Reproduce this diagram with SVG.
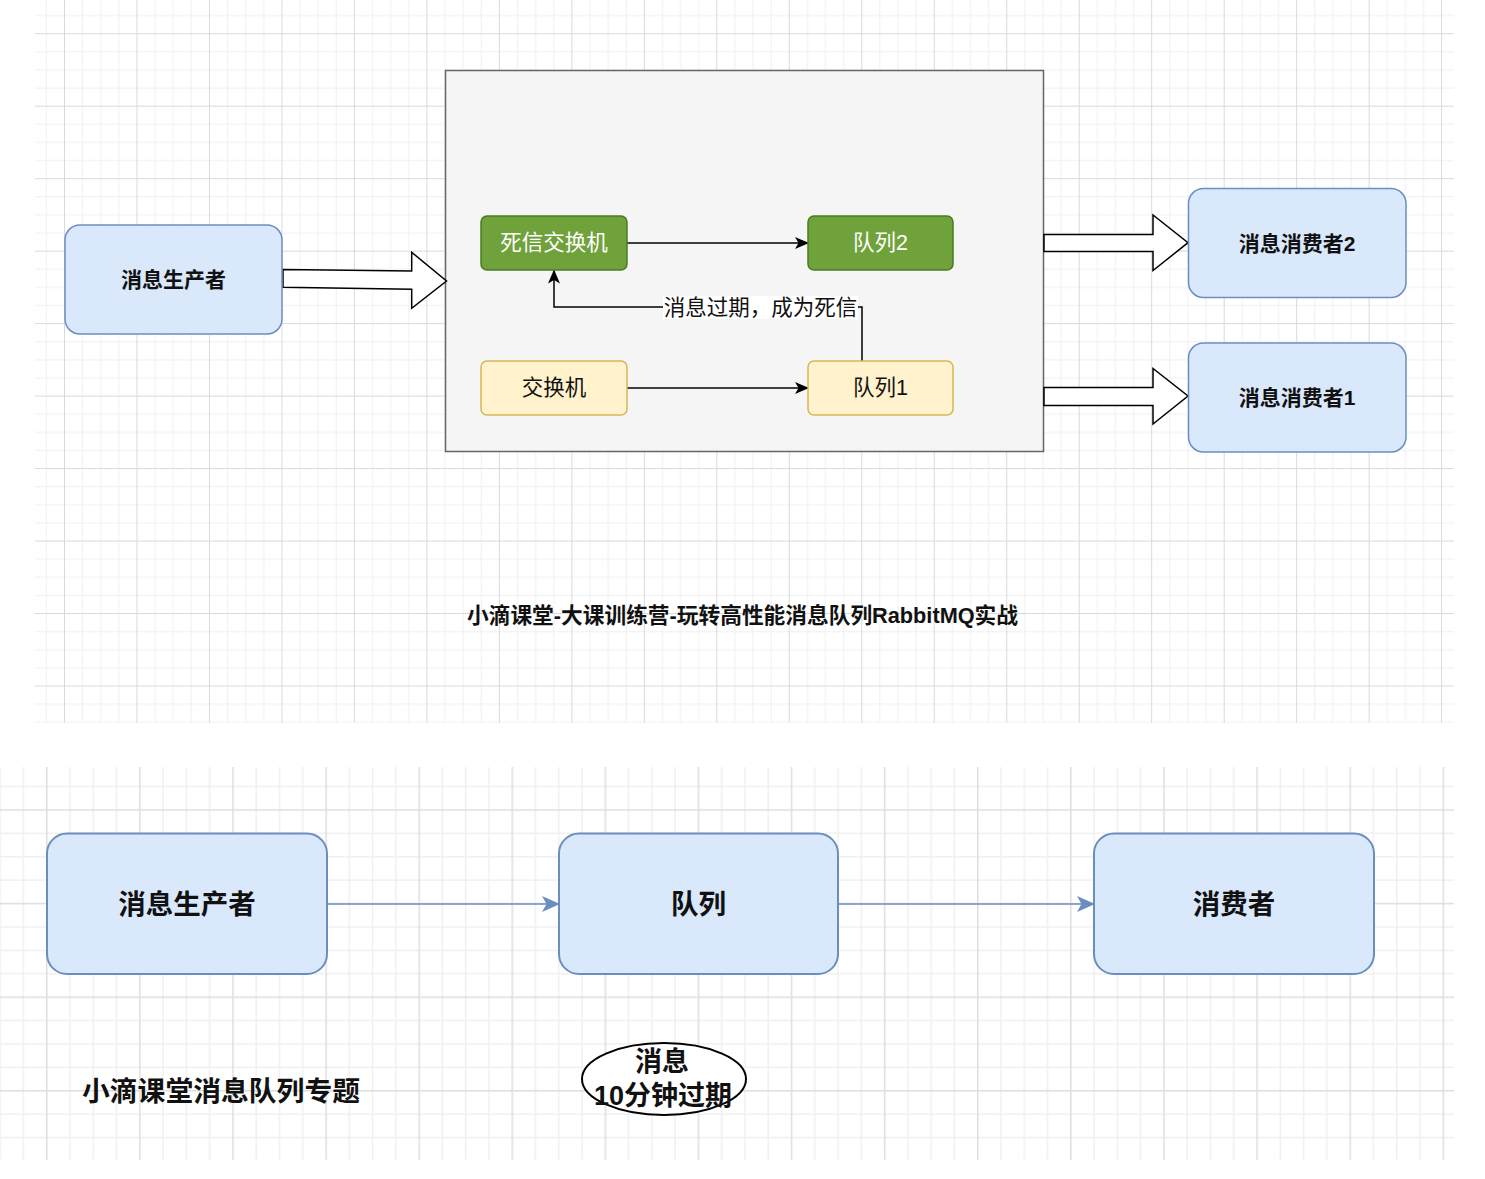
<svg xmlns="http://www.w3.org/2000/svg" width="1485" height="1179" viewBox="0 0 1485 1179">
<defs>
<style>
.t{font-family:"Liberation Sans","Noto Sans CJK SC",sans-serif;text-anchor:middle;dominant-baseline:central}
.b{font-weight:bold;fill:#111}
.blue{fill:#dae8fc;stroke:#6c8ebf}
.green{fill:#70a23b;stroke:#4a7b24;stroke-width:1.5}
.yellow{fill:#fff2cc;stroke:#d6b656;stroke-width:1.5}
.blk{fill:#fff;stroke:#000;stroke-width:1.5;stroke-linejoin:miter}
.edge{fill:none;stroke:#000;stroke-width:1.5}
.bedge{fill:none;stroke:#6c8ebf;stroke-width:1.5}
</style>
<pattern id="gt" patternUnits="userSpaceOnUse" x="64" y="33.2" width="72.48" height="72.48">
<path d="M18.62 0V72.48M36.74 0V72.48M54.86 0V72.48M0 18.62H72.48M0 36.74H72.48M0 54.86H72.48" stroke="#f0f0f0" stroke-width="1"/>
<path d="M0.5 0V72.48M0 0.5H72.48" stroke="#d9d9d9" stroke-width="1"/>
</pattern>
<pattern id="gb" patternUnits="userSpaceOnUse" x="46" y="809.2" width="93.1" height="93.6">
<path d="M23.98 0V93.6M47.25 0V93.6M70.53 0V93.6M0 24.1H93.1M0 47.5H93.1M0 70.9H93.1" stroke="#f0f0f0" stroke-width="1.5"/>
<path d="M0.75 0V93.6M0 0.75H93.1" stroke="#dedede" stroke-width="1.5"/>
</pattern>
<marker id="ab" viewBox="0 0 14 14" refX="13" refY="7" markerWidth="14" markerHeight="14" markerUnits="userSpaceOnUse" orient="auto">
<path d="M0,1 L14,7 L0,13 L3.5,7 Z" fill="#000"/>
</marker>
<marker id="abl" viewBox="0 0 18 18" refX="17" refY="9" markerWidth="18" markerHeight="18" markerUnits="userSpaceOnUse" orient="auto">
<path d="M0,1 L18,9 L0,17 L4.5,9 Z" fill="#6c8ebf"/>
</marker>
</defs>
<rect width="1485" height="1179" fill="#fff"/>
<rect x="35" y="0" width="1419" height="723" fill="url(#gt)"/>
<rect x="0" y="767" width="1454" height="393" fill="url(#gb)"/>

<g id="container">
<rect x="445.5" y="70.5" width="598" height="381" fill="#f5f5f5" stroke="#666" stroke-width="1.5"/>
</g>

<g id="connectors">
<polygon class="blk" points="283,269.5 411.7,271 411.7,252.3 446.5,281 411.7,308.3 411.7,289.3 283,287.3"/>
<polygon class="blk" points="1044,234.5 1153,234.5 1153,215 1188,242.7 1153,270.5 1153,251.5 1044,251.5"/>
<polygon class="blk" points="1044,387.5 1153,387.5 1153,368.5 1188,396 1153,424 1153,405.5 1044,405.5"/>
<line class="edge" x1="627" y1="243" x2="808" y2="243" marker-end="url(#ab)"/>
<line class="edge" x1="627" y1="388" x2="808" y2="388" marker-end="url(#ab)"/>
<polyline class="edge" points="862,361 862,307 554,307 554,270.5" marker-end="url(#ab)"/>
<rect x="663" y="296" width="195" height="23" fill="#fff"/>
<text class="t" x="760.5" y="307.5" font-size="21.5" fill="#111">消息过期，成为死信</text>
<line class="bedge" x1="327" y1="904" x2="559" y2="904" marker-end="url(#abl)"/>
<line class="bedge" x1="838" y1="904" x2="1094" y2="904" marker-end="url(#abl)"/>
</g>

<g id="producer-top">
<rect class="blue" x="65" y="225" width="217" height="109" rx="15" stroke-width="1.5"/>
<text class="t b" x="173.5" y="279.5" font-size="21">消息生产者</text>
</g>
<g id="dlx">
<rect class="green" x="481" y="216" width="146" height="54" rx="6"/>
<text class="t" x="554" y="243" font-size="21.5" fill="#fff">死信交换机</text>
</g>
<g id="queue2">
<rect class="green" x="808" y="216" width="145" height="54" rx="6"/>
<text class="t" x="880.5" y="243" font-size="21.5" fill="#fff">队列2</text>
</g>
<g id="exchange">
<rect class="yellow" x="481" y="361" width="146" height="54" rx="6"/>
<text class="t" x="554" y="388" font-size="21.5" fill="#111">交换机</text>
</g>
<g id="queue1">
<rect class="yellow" x="808" y="361" width="145" height="54" rx="6"/>
<text class="t" x="880.5" y="388" font-size="21.5" fill="#111">队列1</text>
</g>
<g id="consumer2">
<rect class="blue" x="1188.5" y="188.5" width="217.5" height="109" rx="15" stroke-width="1.5"/>
<text class="t b" x="1297" y="243" font-size="21">消息消费者2</text>
</g>
<g id="consumer1">
<rect class="blue" x="1188.5" y="343" width="217.5" height="109" rx="15" stroke-width="1.5"/>
<text class="t b" x="1297" y="397.5" font-size="21">消息消费者1</text>
</g>
<g id="title-top">
<text class="t b" x="742.5" y="616" font-size="21.5" textLength="551" lengthAdjust="spacingAndGlyphs">小滴课堂-大课训练营-玩转高性能消息队列RabbitMQ实战</text>
</g>

<g id="producer-bottom">
<rect class="blue" x="47" y="833.5" width="280" height="140.5" rx="20" stroke-width="2"/>
<text class="t b" x="187" y="904" font-size="27.5">消息生产者</text>
</g>
<g id="queue-bottom">
<rect class="blue" x="559" y="833.5" width="279" height="140.5" rx="20" stroke-width="2"/>
<text class="t b" x="698.5" y="904" font-size="27.5">队列</text>
</g>
<g id="consumer-bottom">
<rect class="blue" x="1094" y="833.5" width="280" height="140.5" rx="20" stroke-width="2"/>
<text class="t b" x="1234" y="904" font-size="27.5">消费者</text>
</g>
<g id="message-ellipse">
<ellipse cx="664" cy="1079" rx="82" ry="36" fill="#fff" stroke="#000" stroke-width="2"/>
<text class="t b" x="662" y="1062" font-size="27">消息</text>
<text class="t b" x="663" y="1096" font-size="27">10分钟过期</text>
</g>
<g id="title-bottom">
<text class="t b" x="221" y="1091" font-size="27.8">小滴课堂消息队列专题</text>
</g>
</svg>
